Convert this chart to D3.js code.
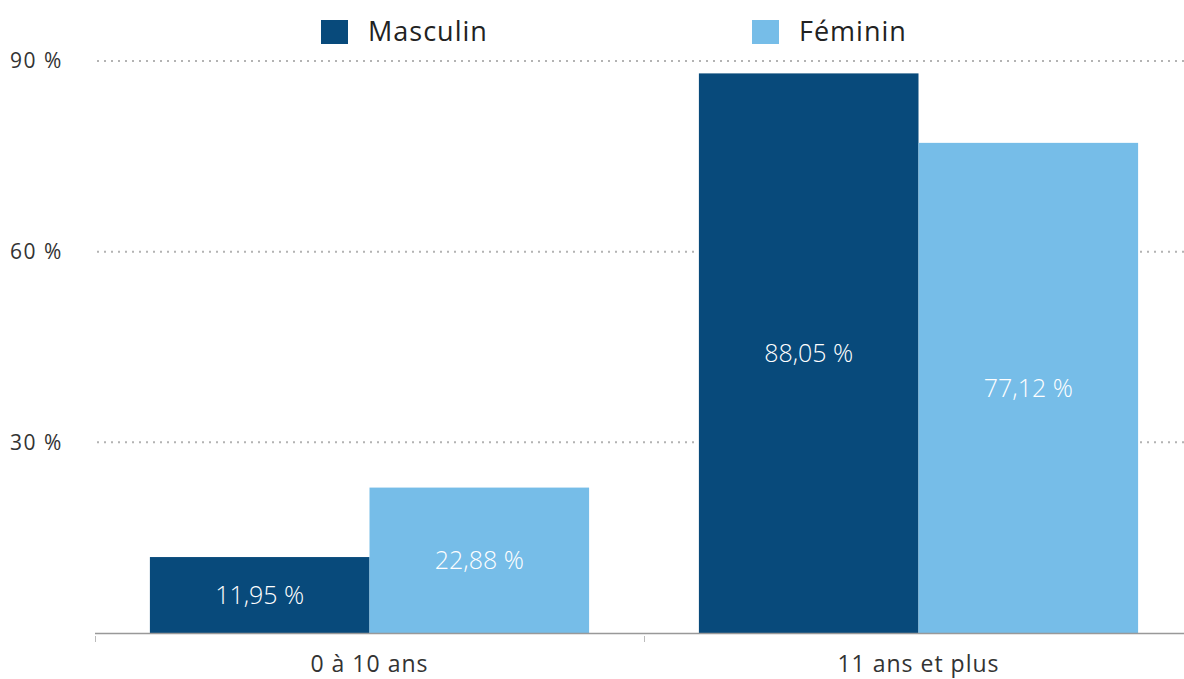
<!DOCTYPE html>
<html>
<head>
<meta charset="utf-8">
<script src="https://cdn.jsdelivr.net/npm/d3@7"></script>
<style>
body { margin: 0; background: #fff; }
text { font-family: "Open Sans", "Noto Sans", sans-serif; }
</style>
</head>
<body>
<script>
// data
var categories = ["0 à 10 ans", "11 ans et plus"];
var series = ["Masculin", "Féminin"];
var masculin = [11.95, 88.05];
var feminin = [22.88, 77.12];
var yTicks = [30, 60, 90];
var colors = ["#084a7b", "#76bde8"];

var chart = {
	width: 1184,
	height: 679,
	left: 95,
	right: 1193,
	top: 61,
	bottom: 633
};

var svg = d3.select("body")
	.append("svg")
	.attr("width", chart.width)
	.attr("height", chart.height);

var x = d3.scaleBand()
	.domain(categories)
	.range([chart.left, chart.right])
	.paddingInner(0.2)
	.paddingOuter(0.1);

var step = x.step();

var xs = d3.scaleBand()
	.domain(series)
	.range([0, x.bandwidth()]);

var y = d3.scaleLinear()
	.domain([0, 90])
	.range([chart.bottom, chart.top]);

function fmt(v){
	return v.toFixed(2).replace(".", ",") + " %";
}

// grid lines
svg.selectAll(".grid")
	.data(yTicks)
	.enter()
	.append("line")
	.attr("x1", 97)
	.attr("x2", chart.width)
	.attr("y1", function(d){ return y(d); })
	.attr("y2", function(d){ return y(d); })
	.attr("stroke", "#b3b3b3")
	.attr("stroke-width", 2)
	.attr("stroke-dasharray", "2,5");

svg.selectAll(".ylab")
	.data(yTicks)
	.enter()
	.append("text")
	.attr("x", 10)
	.attr("y", function(d){ return y(d); })
	.attr("dy", "0.35em")
	.attr("font-size", 21)
	.attr("letter-spacing", 1.5)
	.attr("fill", "#333")
	.text(function(d){ return d + " %"; });

// bars
var rows = categories.map(function(c, i){
	return [
		{ cat: c, s: series[0], v: masculin[i], color: colors[0] },
		{ cat: c, s: series[1], v: feminin[i], color: colors[1] }
	];
});

var groups = svg.selectAll(".group")
	.data(rows)
	.enter()
	.append("g")
	.attr("transform", function(d){ return "translate(" + x(d[0].cat) + ",0)"; });

groups.selectAll("rect")
	.data(function(d){ return d; })
	.enter()
	.append("rect")
	.attr("x", function(d){ return xs(d.s); })
	.attr("width", xs.bandwidth())
	.attr("y", function(d){ return y(d.v); })
	.attr("height", function(d){ return chart.bottom - y(d.v); })
	.attr("fill", function(d){ return d.color; });

groups.selectAll(".val")
	.data(function(d){ return d; })
	.enter()
	.append("text")
	.attr("x", function(d){ return xs(d.s) + xs.bandwidth() / 2; })
	.attr("y", function(d){ return (y(d.v) + chart.bottom) / 2; })
	.attr("dy", "0.35em")
	.attr("text-anchor", "middle")
	.attr("font-size", 25)
	.attr("font-weight", 300)
	.attr("fill", "#fff")
	.text(function(d){ return fmt(d.v); });

// x axis
svg.append("line")
	.attr("x1", chart.left)
	.attr("x2", chart.width)
	.attr("y1", chart.bottom + 0.5)
	.attr("y2", chart.bottom + 0.5)
	.attr("stroke", "#999")
	.attr("stroke-width", 1.5);

var edges = [chart.left, chart.left + step, chart.left + 2 * step];
svg.selectAll(".tick")
	.data(edges)
	.enter()
	.append("line")
	.attr("x1", function(d){ return d + 0.5; })
	.attr("x2", function(d){ return d + 0.5; })
	.attr("y1", chart.bottom + 3)
	.attr("y2", chart.bottom + 9)
	.attr("stroke", "#bbb");

svg.selectAll(".xlab")
	.data(categories)
	.enter()
	.append("text")
	.attr("x", function(d){ return x(d) + x.bandwidth() / 2; })
	.attr("y", 664)
	.attr("dy", "0.35em")
	.attr("text-anchor", "middle")
	.attr("font-size", 23)
	.attr("letter-spacing", 1)
	.attr("fill", "#333")
	.text(function(d){ return d; });

// legend
var legendX = [321, 752];
var legend = svg.selectAll(".legend")
	.data(series)
	.enter()
	.append("g")
	.attr("transform", function(d, i){ return "translate(" + legendX[i] + ",20)"; });

legend.append("rect")
	.attr("width", 27)
	.attr("height", 24)
	.attr("fill", function(d, i){ return colors[i]; });

legend.append("text")
	.attr("x", 47)
	.attr("y", 12)
	.attr("dy", "0.35em")
	.attr("font-size", 27)
	.attr("letter-spacing", 1)
	.attr("fill", "#222")
	.text(function(d){ return d; });
</script>
</body>
</html>
